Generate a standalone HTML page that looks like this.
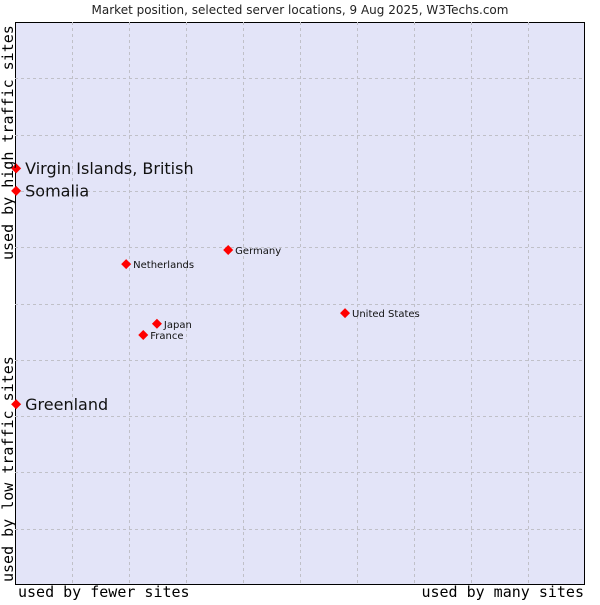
<!DOCTYPE html>
<html><head><meta charset="utf-8"><style>
body{margin:0;background:#fff}
svg text{font-family:"DejaVu Sans","Liberation Sans",sans-serif}
.mono{font-family:"DejaVu Sans Mono","Liberation Mono",monospace}
</style></head><body>
<svg id="chart" width="600" height="600" xmlns="http://www.w3.org/2000/svg">
<text x="300" y="14" text-anchor="middle" font-size="12" fill="#222">Market position, selected server locations, 9 Aug 2025, W3Techs.com</text>
<rect x="15.5" y="22.5" width="569" height="562" fill="#e3e4f8" stroke="#000" stroke-width="1"/>
<g id="grid"></g>
<g id="marks"></g>
<text class="mono" x="18" y="597" font-size="15" fill="#000">used by fewer sites</text>
<text class="mono" x="584" y="597" font-size="15" text-anchor="end" fill="#000">used by many sites</text>
<text class="mono" transform="translate(13,582) rotate(-90)" font-size="15" fill="#000">used by low traffic sites</text>
<text class="mono" transform="translate(13,260) rotate(-90)" font-size="15" fill="#000">used by high traffic sites</text>
</svg>
<script>
const countries=["Virgin Islands, British","Somalia","Greenland","Netherlands","Germany","United States","Japan","France"];
const xVals=[0.02,0.02,0.02,1.95,3.74,5.79,2.49,2.25];
const yVals=[7.40,7.00,3.21,5.70,5.95,4.83,4.64,4.44];
const bigLabel=[true,true,true,false,false,false,false,false];
const NS="http://www.w3.org/2000/svg";
const L=15,R=585,T=22,B=585;
function sx(v){return L+v*(R-L)/10;}
function sy(v){return B-v*(B-T)/10;}
const grid=document.getElementById('grid');
for(let i=1;i<10;i++){
  const v=document.createElementNS(NS,'line');
  
  
  v.setAttribute('x1',sx(i)+0.5);v.setAttribute('x2',sx(i)+0.5);v.setAttribute('y1',T);v.setAttribute('y2',B);
  v.setAttribute('stroke','#c0c0c8');v.setAttribute('stroke-dasharray','3,3');
  grid.appendChild(v);
  const h=document.createElementNS(NS,'line');
  
  
  h.setAttribute('y1',Math.round(sy(i))+0.5);h.setAttribute('y2',Math.round(sy(i))+0.5);h.setAttribute('x1',L);h.setAttribute('x2',R);
  h.setAttribute('stroke','#c0c0c8');h.setAttribute('stroke-dasharray','3,3');
  grid.appendChild(h);
}
const marks=document.getElementById('marks');
countries.forEach((c,i)=>{
  const x=sx(xVals[i]),y=sy(yVals[i]);
  const p=document.createElementNS(NS,'polygon');
  
  
  p.setAttribute('points',`${x},${y-5} ${x+5},${y} ${x},${y+5} ${x-5},${y}`);
  p.setAttribute('fill','#f00');
  marks.appendChild(p);
  const t=document.createElementNS(NS,'text');
  
  
  t.setAttribute('x',x+(bigLabel[i]?9:7));
  t.setAttribute('y',y+(bigLabel[i]?5.5:4));
  t.setAttribute('font-size',bigLabel[i]?'16':'10');
  t.setAttribute('fill','#111');
  t.textContent=c;
  marks.appendChild(t);
});
</script>
</body></html>
